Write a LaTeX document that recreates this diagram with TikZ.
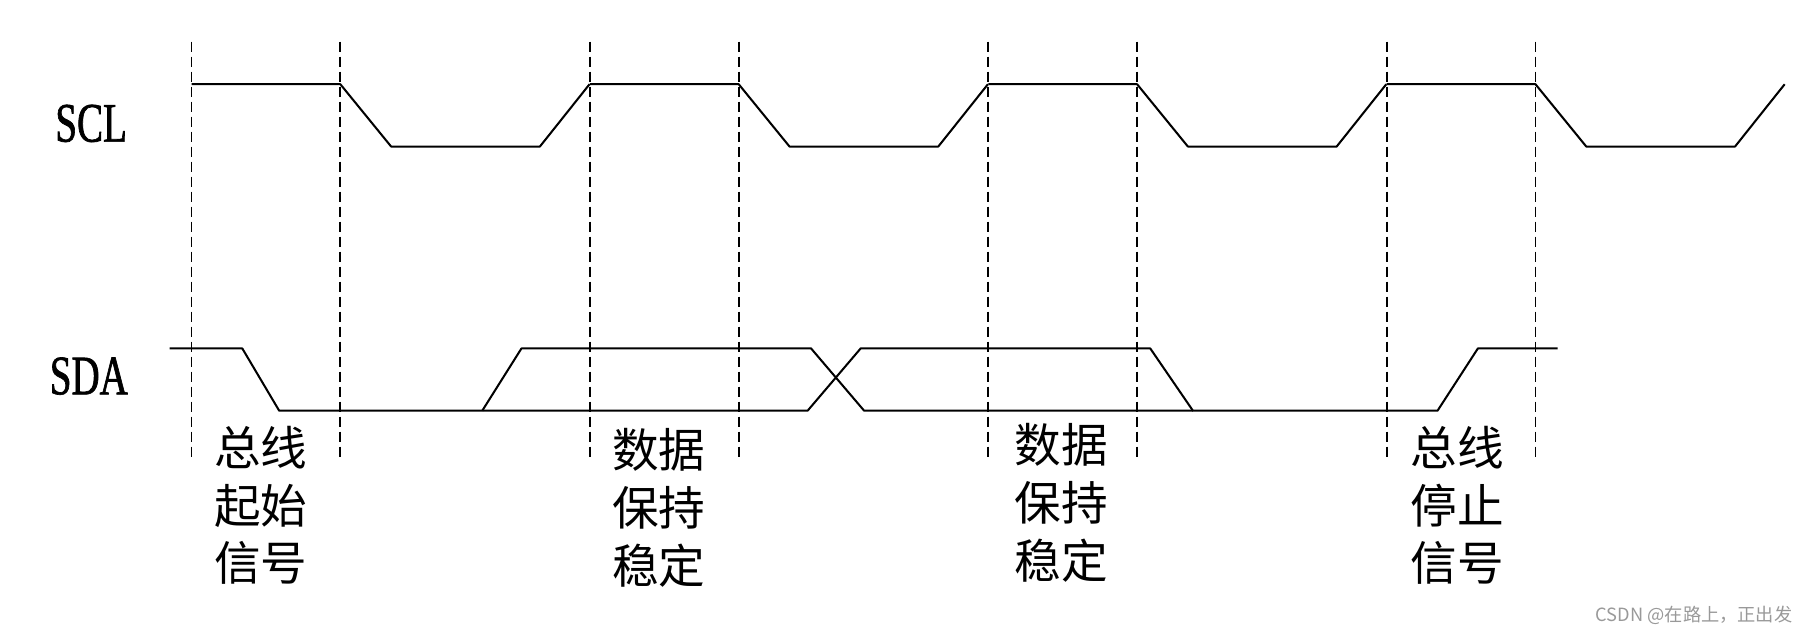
\documentclass[tikz,border=0pt]{standalone}
\usepackage{fontspec}
\setmainfont{Liberation Serif}
\newfontfamily\narrowfont[FakeStretch=0.70, FakeBold=1.2]{Liberation Serif}
\newfontfamily\cjk{Noto Sans CJK SC}
\usepackage{tikz}
\usetikzlibrary{calc,positioning}

\begin{document}
\begin{tikzpicture}[x=0.02cm, y=-0.02cm, sig/.style={line width=1pt, line join=round}, grd/.style={line width=0.9pt, dash pattern=on 5pt off 2.4pt}, signame/.style={inner sep=0pt, font=\narrowfont\fontsize{27.5}{30}\selectfont}, lbl/.style={inner sep=0pt, align=center, font=\cjk\fontsize{23}{28.5}\selectfont}]
\useasboundingbox (0,0) rectangle (1568,550);
% SCL clock and dashed markers
\foreach \i in {0,1,2,3}{
	\draw let \n1 = {166+345.3*\i} in [sig] (\n1,73) -- ++(129,0) -- ++(44,54) -- ++(129,0) -- ++(43,-54);
	\draw let \n1 = {166+345.3*\i} in [grd] (\n1,36) -- (\n1,400) (\n1+129,36) -- (\n1+129,400);}
% SDA data
\draw[sig] (147,302) -- (210,302) -- (242,356) -- (700,356) -- (746,302) -- (997,302) -- (1034,356) -- (1246,356) -- (1281,302) -- (1350,302);
\draw[sig] (418,356) -- (452,302) -- (703,302) -- (749,356) -- (1034,356);
\node[signame] (scl) at (79,107){SCL};
\node[signame] (sda) at (77,326){SDA};
\node[lbl] (start) at (226,438){总线\\起始\\信号};
\node[lbl] (hold1) at (571,440){数据\\保持\\稳定};
\node[lbl] (hold2) at (920,436){数据\\保持\\稳定};
\node[lbl] (stop) at (1263,438){总线\\停止\\信号};
\node[inner sep=0pt, anchor=east, text=black!40, font=\cjk\fontsize{9}{10}\selectfont] (mark) at (1554,533){CSDN @在路上，正出发};

\end{tikzpicture}
\end{document}
